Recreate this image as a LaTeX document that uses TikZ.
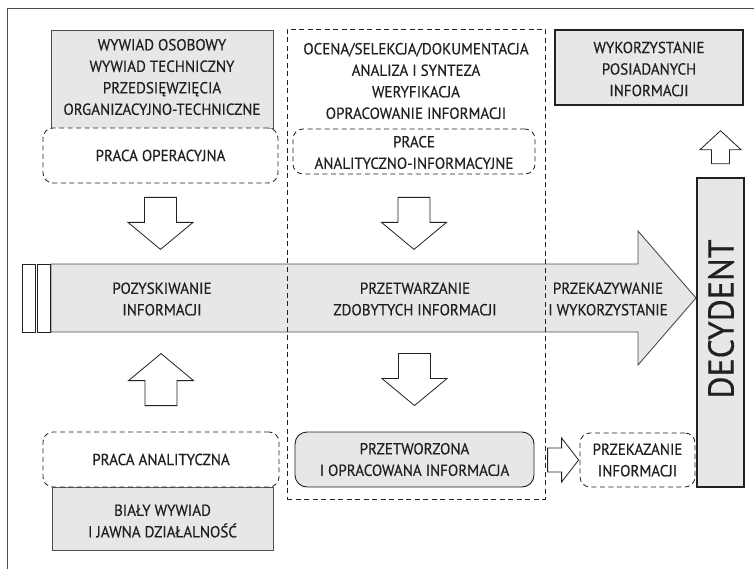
\documentclass[tikz,border=0pt]{standalone}
\usepackage{fontspec}
\setmainfont{PT Sans}[FakeStretch=0.94, FakeBold=0.4]
\usetikzlibrary{calc}
\definecolor{boxgray}{HTML}{E6E7E8}
\definecolor{ink}{HTML}{231F20}
\definecolor{edgegray}{HTML}{4D4D4F}
\tikzset{
  txt/.style={font=\fontsize{16}{21.5}\selectfont, text=ink, align=center, inner sep=0pt},
  graybox/.style={draw=edgegray, line width=0.9pt, fill=boxgray, inner sep=0pt},
  heavybox/.style={draw=ink, line width=2.2pt, fill=boxgray, inner sep=0pt},
  dashbox/.style={draw=ink, line width=0.8pt, dash pattern=on 5pt off 3.5pt, rounded corners=10pt, inner sep=0pt},
  roundbox/.style={draw=ink, line width=0.9pt, fill=boxgray, rounded corners=12pt, inner sep=0pt},
  whitebar/.style={draw=ink, line width=0.9pt, fill=white, inner sep=0pt},
  blockarrow/.style={draw=ink, line width=0.8pt, fill=white, line join=miter},
  mainarrow/.style={draw=edgegray, line width=0.9pt, fill=boxgray, line join=miter},
  frameline/.style={draw=edgegray, line width=0.8pt},
  % block arrows, origin at the middle of the tail end
  pics/downblock/.style={code={
    \draw[blockarrow] (-16,0) -- (16,0) -- (16,25) -- (32.5,25) -- (0,52)
      -- (-32.5,25) -- (-16,25) -- cycle;}},
  pics/upblock/.style={code={
    \draw[blockarrow] (-16,0) -- (16,0) -- (16,-25) -- (32.5,-25) -- (0,-52)
      -- (-32.5,-25) -- (-16,-25) -- cycle;}},
  pics/smallupblock/.style={code={
    \draw[blockarrow] (-9,0) -- (9,0) -- (9,-14) -- (20.5,-14) -- (0,-33)
      -- (-20.5,-14) -- (-9,-14) -- cycle;}},
  pics/rightblock/.style={code={
    \draw[blockarrow] (0,-12) -- (14,-12) -- (14,-22) -- (31,0) -- (14,22)
      -- (14,12) -- (0,12) -- cycle;}},
}
\begin{document}
\begin{tikzpicture}[x=1pt,y=-1pt]
\useasboundingbox (0,0) rectangle (754,569);

% outer frame
\draw[frameline] (7,569) -- (7,8) -- (754,8);

% main flow arrow
\draw[mainarrow] (51,264) -- (638,264) -- (638,231) -- (696,298) -- (638,365)
  -- (638,332) -- (51,332) -- cycle;
\node[whitebar, minimum width=13pt, minimum height=68pt] (bar1) at (28.5,298) {};
\node[whitebar, minimum width=13pt, minimum height=68pt] (bar2) at (43.5,298) {};
\node[txt] (acq) at (162,299) {POZYSKIWANIE\\INFORMACJI};
\node[txt] (proc) at (415,299) {PRZETWARZANIE\\ZDOBYTYCH INFORMACJI};
\node[txt] (trans) at (608,299) {PRZEKAZYWANIE\\I WYKORZYSTANIE};

% left column: acquisition
\node[graybox, minimum width=222pt, minimum height=98pt] (sources) at (162,79) {};
\node[txt] at (162,77) {WYWIAD OSOBOWY\\WYWIAD TECHNICZNY\\PRZEDSIĘWZIĘCIA\\ORGANIZACYJNO-TECHNICZNE};
\node[dashbox, fill=white, minimum width=235pt, minimum height=55pt] (opwork) at (160.5,155.5) {};
\node[txt] at (opwork) {PRACA OPERACYJNA};

\node[graybox, minimum width=221pt, minimum height=63pt] (open) at (162.5,518.5) {};
\node[txt] at (162.5,521) {BIAŁY WYWIAD\\I JAWNA DZIAŁALNOŚĆ};
\node[dashbox, fill=white, minimum width=236pt, minimum height=55pt] (anawork) at (161,459.5) {};
\node[txt] at (anawork) {PRACA ANALITYCZNA};

\pic at ([yshift=-14pt]opwork.south) {downblock};
\pic at ([yshift=26pt]anawork.north) {upblock};

% middle column: processing
\node[dashbox, fill=white, minimum width=242pt, minimum height=45pt] (anainfo) at (414,151.5) {};
\node[txt] at ([yshift=-1pt]anainfo.center) {PRACE\\ANALITYCZNO-INFORMACYJNE};
\node[txt] (tasks) at (416,81) {OCENA/SELEKCJA/DOKUMENTACJA\\ANALIZA I SYNTEZA\\WERYFIKACJA\\OPRACOWANIE INFORMACJI};
\node[roundbox, minimum width=239pt, minimum height=55pt] (result) at (414.5,459.5) {};
\node[txt] at (result) {PRZETWORZONA\\I OPRACOWANA INFORMACJA};

\pic at ([yshift=-23pt]anainfo.south) {downblock};
\pic at ([yshift=78pt]result.north) {downblock};

% dashed frame of the processing stage, drawn over the flow arrow
\node[dashbox, rounded corners=0pt, minimum width=258pt, minimum height=470pt] (stage) at (416,264) {};

% right column: transfer and use
\node[dashbox, fill=white, minimum width=115pt, minimum height=54pt] (handover) at (637.5,460) {};
\node[txt] at (handover) {PRZEKAZANIE\\INFORMACJI};
\pic at ([xshift=-32pt]handover.west) {rightblock};

\node[heavybox, minimum width=188pt, minimum height=75pt] (use) at (649,67.5) {};
\node[txt] at (649,69) {WYKORZYSTANIE\\POSIADANYCH\\INFORMACJI};

\node[heavybox, line width=2.6pt, minimum width=47pt, minimum height=309pt] (decider) at (720.5,332.5) {};
\node[txt, font=\fontsize{36}{40}\selectfont, rotate=90] at (721,319) {DECYDENT};
\pic at ([yshift=13pt]decider.north) {smallupblock};

\end{tikzpicture}
\end{document}
